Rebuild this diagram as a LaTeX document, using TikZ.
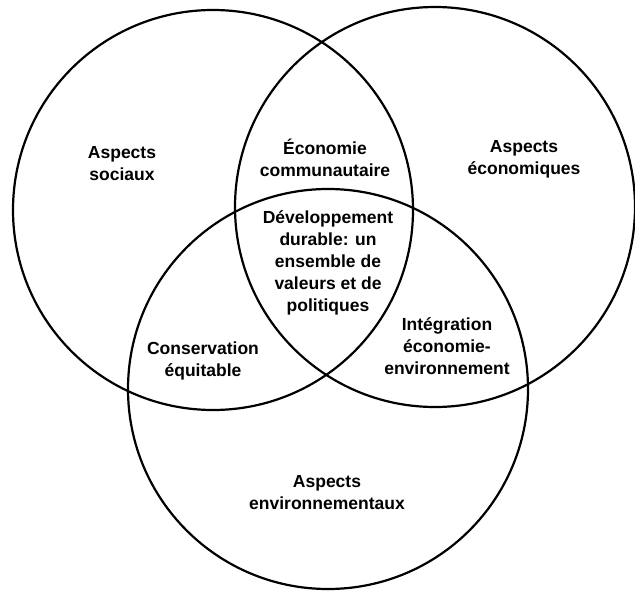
\documentclass[tikz,border=0pt]{standalone}
\usepackage{fontspec}
\setmainfont{Liberation Sans}
\begin{document}
\begin{tikzpicture}[x=1bp,y=-1bp,
  ring/.style={circle,draw=black,line width=2.2bp,minimum size=400bp,inner sep=0pt},
  lbl/.style={align=center,inner sep=0pt,font=\fontsize{17.5bp}{22bp}\selectfont\bfseries}]
\useasboundingbox[fill=white] (0,0) rectangle (635,592);
\node[ring] (soc) at (213,210) {};
\node[ring] (eco) at (435,207) {};
\node[ring] (env) at (328,389) {};
\node[lbl] (tsoc) at (122,164) {Aspects\\sociaux};
\node[lbl] (tcom) at (325,158) {Économie\\communautaire};
\node[lbl] (teco) at (524,159) {Aspects\\économiques};
\node[lbl] (tdev) at (328,263) {Développement\\durable: un\\ensemble de\\valeurs et de\\politiques};
\node[lbl] (tcon) at (203,361) {Conservation\\équitable};
\node[lbl] (tint) at (447,346) {Intégration\\économie-\\environnement};
\node[lbl] (tenv) at (327,493) {Aspects\\environnementaux};
\end{tikzpicture}
\end{document}
